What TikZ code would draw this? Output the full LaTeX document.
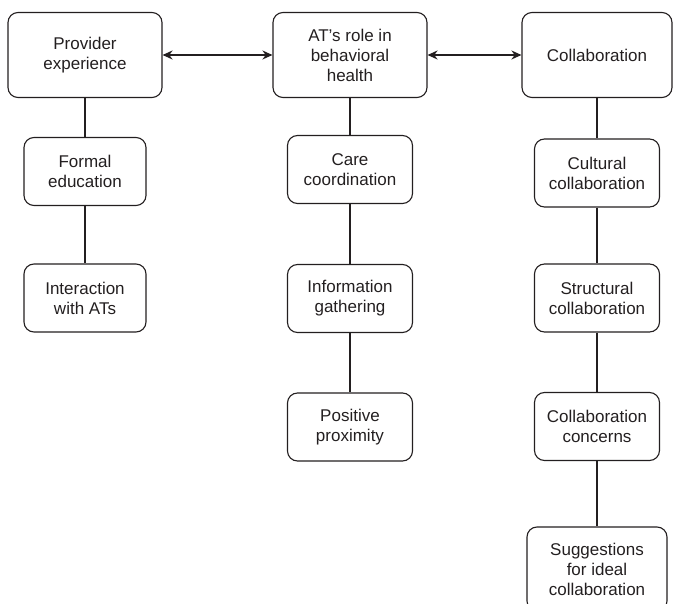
\documentclass[tikz,border=0pt]{standalone}
\usepackage{fontspec}
\setmainfont{Liberation Sans}
\usetikzlibrary{arrows.meta, positioning}
\definecolor{inkgray}{HTML}{231F20}

\begin{document}
\begin{tikzpicture}[x=1pt, y=-1pt,
        every node/.style={draw=inkgray, 
        rounded corners=10pt, 
        line width=1.1pt,
        text=inkgray,
        align=center,
        inner sep=0pt,
        font=\fontsize{17}{20}\selectfont},
        topic/.style={minimum width=154pt, minimum height=85pt},
        subtopic/.style={minimum width=125pt, minimum height=68pt},
        link/.style={inkgray, line width=2pt},
        >={Stealth[length=10pt, width=9pt]}]
        \useasboundingbox (0,0) rectangle (673,604);
        \clip (0,0) rectangle (673,604);
        % top row
        \node[topic] at (85,55) (provider) {Provider\\experience};
        \node[topic] at (350,55) (role) {AT’s role in\\behavioral\\health};
        \node[topic, minimum width=150pt] at (597,55) (collab) {Collaboration};
        % left column
        \node[subtopic, minimum width=122pt] at (85,171.5) (formal) {Formal\\education};
        \node[subtopic, minimum width=122pt] at (85,298) (interact) {Interaction\\with ATs};
        % middle column
        \node[subtopic] at (350,169.5) (care) {Care\\coordination};
        \node[subtopic] at (350,298.5) (info) {Information\\gathering};
        \node[subtopic] at (350,427) (proximity) {Positive\\proximity};
        % right column
        \node[subtopic] at (597,173) (cultural) {Cultural\\collaboration};
        \node[subtopic] at (597,298) (structural) {Structural\\collaboration};
        \node[subtopic] at (597,426.5) (concerns) {Collaboration\\concerns};
        \node[subtopic, minimum width=140pt, minimum height=84pt] at (597,569) (ideal) {Suggestions\\for ideal\\collaboration};
        % connectors
        \draw[link, <->] (provider.east) -- (role.west);
        \draw[link, <->] (role.east) -- (collab.west);
        \draw[link] (provider.south) -- (formal.north);
        \draw[link] (formal.south) -- (interact.north);
        \draw[link] (role.south) -- (care.north);
        \draw[link] (care.south) -- (info.north);
        \draw[link] (info.south) -- (proximity.north);
        \draw[link] (collab.south) -- (cultural.north);
        \draw[link] (cultural.south) -- (structural.north);
        \draw[link] (structural.south) -- (concerns.north);
        \draw[link] (concerns.south) -- (ideal.north);
    \end{tikzpicture}
\end{document}
